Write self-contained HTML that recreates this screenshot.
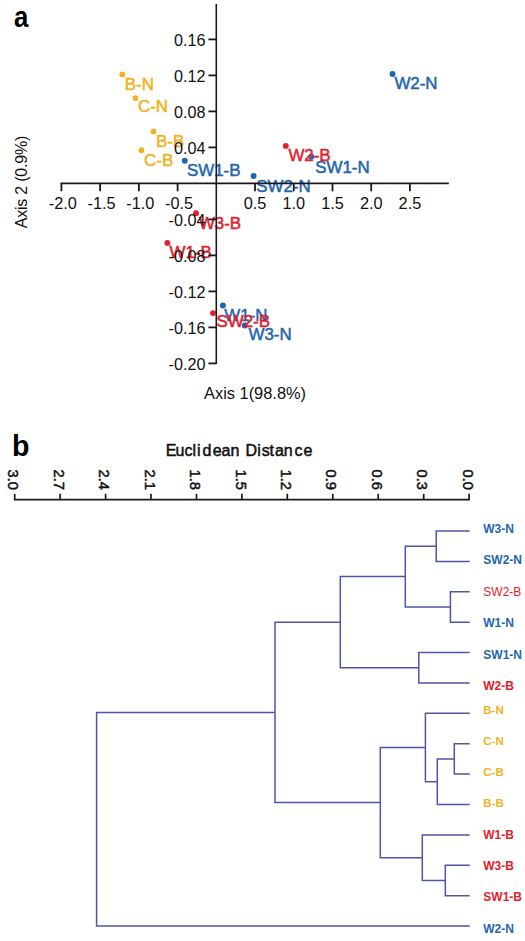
<!DOCTYPE html>
<html><head><meta charset="utf-8"><title>PCoA and dendrogram</title>
<style>
html,body{margin:0;padding:0;background:#fff;}
body{width:525px;height:941px;overflow:hidden;}
svg{display:block;font-family:"Liberation Sans", sans-serif;}
</style></head>
<body>
<svg width="525" height="941" viewBox="0 0 525 941">
<text transform="translate(13.9,26.6) scale(0.88,1)" font-size="29.3" font-weight="bold" fill="#000">a</text>
<circle cx="122.3" cy="74.4" r="2.95" fill="#f1b221"/>
<circle cx="135.4" cy="98.1" r="2.95" fill="#f1b221"/>
<circle cx="153.5" cy="131.5" r="2.95" fill="#f1b221"/>
<circle cx="141.4" cy="150.3" r="2.95" fill="#f1b221"/>
<circle cx="184.8" cy="160.7" r="2.95" fill="#1f66b0"/>
<circle cx="253.6" cy="176.0" r="2.95" fill="#1f66b0"/>
<circle cx="392.5" cy="74.0" r="2.95" fill="#1f66b0"/>
<circle cx="222.9" cy="305.5" r="2.95" fill="#1f66b0"/>
<circle cx="244.8" cy="325.5" r="2.95" fill="#1f66b0"/>
<circle cx="311.3" cy="156.8" r="2.95" fill="#1f66b0"/>
<circle cx="285.8" cy="145.9" r="2.95" fill="#e4202c"/>
<circle cx="196.0" cy="213.2" r="2.95" fill="#e4202c"/>
<circle cx="167.4" cy="242.9" r="2.95" fill="#e4202c"/>
<circle cx="213.0" cy="313.1" r="2.95" fill="#e4202c"/>
<text x="124.8" y="89.5" font-size="16.9" fill="#f1b221" stroke="#f1b221" stroke-width="0.5">B-N</text>
<text x="138.0" y="112.0" font-size="16.9" fill="#f1b221" stroke="#f1b221" stroke-width="0.5">C-N</text>
<text x="156.0" y="147.0" font-size="16.9" fill="#f1b221" stroke="#f1b221" stroke-width="0.5">B-B</text>
<text x="144.1" y="165.9" font-size="16.9" fill="#f1b221" stroke="#f1b221" stroke-width="0.5">C-B</text>
<text x="187.0" y="176.4" font-size="16.9" fill="#1f66b0" stroke="#1f66b0" stroke-width="0.5">SW1-B</text>
<text x="256.2" y="191.8" font-size="16.9" fill="#1f66b0" stroke="#1f66b0" stroke-width="0.5">SW2-N</text>
<text x="394.4" y="89.3" font-size="16.9" fill="#1f66b0" stroke="#1f66b0" stroke-width="0.5">W2-N</text>
<text x="224.2" y="320.5" font-size="16.9" fill="#1f66b0" stroke="#1f66b0" stroke-width="0.5">W1-N</text>
<text x="248.5" y="339.6" font-size="16.9" fill="#1f66b0" stroke="#1f66b0" stroke-width="0.5">W3-N</text>
<text x="315.2" y="173.1" font-size="16.9" fill="#1f66b0" stroke="#1f66b0" stroke-width="0.5">SW1-N</text>
<text x="288.4" y="160.6" font-size="16.9" fill="#e4202c" stroke="#e4202c" stroke-width="0.5">W2-B</text>
<text x="198.9" y="229.3" font-size="16.9" fill="#e4202c" stroke="#e4202c" stroke-width="0.5">W3-B</text>
<text x="169.6" y="257.8" font-size="16.9" fill="#e4202c" stroke="#e4202c" stroke-width="0.5">W1-B</text>
<text x="216.5" y="327.1" font-size="16.9" fill="#e4202c" stroke="#e4202c" stroke-width="0.5">SW2-B</text>
<line x1="216.3" y1="4" x2="216.3" y2="364.0" stroke="#1a1a1a" stroke-width="1.6"/>
<line x1="60.5" y1="183.4" x2="448.8" y2="183.4" stroke="#1a1a1a" stroke-width="1.6"/>
<line x1="61.4" y1="183.4" x2="61.4" y2="191.3" stroke="#1a1a1a" stroke-width="1.8"/>
<text x="62.9" y="208.5" font-size="16.3" text-anchor="middle" fill="#111">-2.0</text>
<line x1="100.1" y1="183.4" x2="100.1" y2="191.3" stroke="#1a1a1a" stroke-width="1.8"/>
<text x="101.6" y="208.5" font-size="16.3" text-anchor="middle" fill="#111">-1.5</text>
<line x1="138.9" y1="183.4" x2="138.9" y2="191.3" stroke="#1a1a1a" stroke-width="1.8"/>
<text x="140.4" y="208.5" font-size="16.3" text-anchor="middle" fill="#111">-1.0</text>
<line x1="177.6" y1="183.4" x2="177.6" y2="191.3" stroke="#1a1a1a" stroke-width="1.8"/>
<text x="179.1" y="208.5" font-size="16.3" text-anchor="middle" fill="#111">-0.5</text>
<line x1="255.0" y1="183.4" x2="255.0" y2="191.3" stroke="#1a1a1a" stroke-width="1.8"/>
<text x="255.0" y="208.5" font-size="16.3" text-anchor="middle" fill="#111">0.5</text>
<line x1="293.7" y1="183.4" x2="293.7" y2="191.3" stroke="#1a1a1a" stroke-width="1.8"/>
<text x="293.7" y="208.5" font-size="16.3" text-anchor="middle" fill="#111">1.0</text>
<line x1="332.5" y1="183.4" x2="332.5" y2="191.3" stroke="#1a1a1a" stroke-width="1.8"/>
<text x="332.5" y="208.5" font-size="16.3" text-anchor="middle" fill="#111">1.5</text>
<line x1="371.2" y1="183.4" x2="371.2" y2="191.3" stroke="#1a1a1a" stroke-width="1.8"/>
<text x="371.2" y="208.5" font-size="16.3" text-anchor="middle" fill="#111">2.0</text>
<line x1="409.9" y1="183.4" x2="409.9" y2="191.3" stroke="#1a1a1a" stroke-width="1.8"/>
<text x="409.9" y="208.5" font-size="16.3" text-anchor="middle" fill="#111">2.5</text>
<line x1="208.4" y1="39.4" x2="216.3" y2="39.4" stroke="#1a1a1a" stroke-width="1.8"/>
<text x="205.5" y="46.2" font-size="16.2" text-anchor="end" fill="#111">0.16</text>
<line x1="208.4" y1="75.4" x2="216.3" y2="75.4" stroke="#1a1a1a" stroke-width="1.8"/>
<text x="205.5" y="82.2" font-size="16.2" text-anchor="end" fill="#111">0.12</text>
<line x1="208.4" y1="111.4" x2="216.3" y2="111.4" stroke="#1a1a1a" stroke-width="1.8"/>
<text x="205.5" y="118.2" font-size="16.2" text-anchor="end" fill="#111">0.08</text>
<line x1="208.4" y1="147.4" x2="216.3" y2="147.4" stroke="#1a1a1a" stroke-width="1.8"/>
<text x="205.5" y="154.2" font-size="16.2" text-anchor="end" fill="#111">0.04</text>
<line x1="208.4" y1="219.4" x2="216.3" y2="219.4" stroke="#1a1a1a" stroke-width="1.8"/>
<text x="205.5" y="226.2" font-size="16.2" text-anchor="end" fill="#111">-0.04</text>
<line x1="208.4" y1="255.4" x2="216.3" y2="255.4" stroke="#1a1a1a" stroke-width="1.8"/>
<text x="205.5" y="262.2" font-size="16.2" text-anchor="end" fill="#111">-0.08</text>
<line x1="208.4" y1="291.4" x2="216.3" y2="291.4" stroke="#1a1a1a" stroke-width="1.8"/>
<text x="205.5" y="298.2" font-size="16.2" text-anchor="end" fill="#111">-0.12</text>
<line x1="208.4" y1="327.4" x2="216.3" y2="327.4" stroke="#1a1a1a" stroke-width="1.8"/>
<text x="205.5" y="334.2" font-size="16.2" text-anchor="end" fill="#111">-0.16</text>
<line x1="208.4" y1="363.4" x2="216.3" y2="363.4" stroke="#1a1a1a" stroke-width="1.8"/>
<text x="205.5" y="370.2" font-size="16.2" text-anchor="end" fill="#111">-0.20</text>
<text x="204" y="398.8" font-size="16.4" fill="#111">Axis 1(98.8%)</text>
<text transform="translate(26.8,228.3) rotate(-90)" x="0" y="0" font-size="16" fill="#111" textLength="92.6">Axis 2 (0.9%)</text>
<text transform="translate(11.9,455.6) scale(0.97,1)" font-size="29.5" font-weight="bold" fill="#000">b</text>
<text x="165.7 175.5 184.6 192.4 196.9 202.5 212.8 221.6 230.5 239.5 245.6 257.2 261.7 269.5 274.9 283.7 294.5 303.5" y="456.0" font-size="16" fill="#111" stroke="#111" stroke-width="0.5">Euclidean Distance</text>
<line x1="13.9" y1="499.6" x2="469.9" y2="499.6" stroke="#1a1a1a" stroke-width="1.7"/>
<line x1="469.1" y1="493.8" x2="469.1" y2="499.6" stroke="#1a1a1a" stroke-width="1.7"/>
<text transform="translate(462.7,469.6) rotate(90)" font-size="14.6" fill="#111" stroke="#111" stroke-width="0.5">0.0</text>
<line x1="423.7" y1="493.8" x2="423.7" y2="499.6" stroke="#1a1a1a" stroke-width="1.7"/>
<text transform="translate(417.3,469.6) rotate(90)" font-size="14.6" fill="#111" stroke="#111" stroke-width="0.5">0.3</text>
<line x1="378.2" y1="493.8" x2="378.2" y2="499.6" stroke="#1a1a1a" stroke-width="1.7"/>
<text transform="translate(371.8,469.6) rotate(90)" font-size="14.6" fill="#111" stroke="#111" stroke-width="0.5">0.6</text>
<line x1="332.8" y1="493.8" x2="332.8" y2="499.6" stroke="#1a1a1a" stroke-width="1.7"/>
<text transform="translate(326.4,469.6) rotate(90)" font-size="14.6" fill="#111" stroke="#111" stroke-width="0.5">0.9</text>
<line x1="287.3" y1="493.8" x2="287.3" y2="499.6" stroke="#1a1a1a" stroke-width="1.7"/>
<text transform="translate(280.9,469.6) rotate(90)" font-size="14.6" fill="#111" stroke="#111" stroke-width="0.5">1.2</text>
<line x1="241.9" y1="493.8" x2="241.9" y2="499.6" stroke="#1a1a1a" stroke-width="1.7"/>
<text transform="translate(235.5,469.6) rotate(90)" font-size="14.6" fill="#111" stroke="#111" stroke-width="0.5">1.5</text>
<line x1="196.5" y1="493.8" x2="196.5" y2="499.6" stroke="#1a1a1a" stroke-width="1.7"/>
<text transform="translate(190.1,469.6) rotate(90)" font-size="14.6" fill="#111" stroke="#111" stroke-width="0.5">1.8</text>
<line x1="151.0" y1="493.8" x2="151.0" y2="499.6" stroke="#1a1a1a" stroke-width="1.7"/>
<text transform="translate(144.6,469.6) rotate(90)" font-size="14.6" fill="#111" stroke="#111" stroke-width="0.5">2.1</text>
<line x1="105.6" y1="493.8" x2="105.6" y2="499.6" stroke="#1a1a1a" stroke-width="1.7"/>
<text transform="translate(99.2,469.6) rotate(90)" font-size="14.6" fill="#111" stroke="#111" stroke-width="0.5">2.4</text>
<line x1="60.1" y1="493.8" x2="60.1" y2="499.6" stroke="#1a1a1a" stroke-width="1.7"/>
<text transform="translate(53.7,469.6) rotate(90)" font-size="14.6" fill="#111" stroke="#111" stroke-width="0.5">2.7</text>
<line x1="14.7" y1="493.8" x2="14.7" y2="499.6" stroke="#1a1a1a" stroke-width="1.7"/>
<text transform="translate(8.3,469.6) rotate(90)" font-size="14.6" fill="#111" stroke="#111" stroke-width="0.5">3.0</text>
<text x="483.3" y="532.5" font-size="12" font-weight="bold" fill="#1f66b0">W3-N</text>
<text x="483.3" y="564.2" font-size="12" font-weight="bold" fill="#1f66b0">SW2-N</text>
<text x="483.3" y="596.3" font-size="12" fill="#e4202c">SW2-B</text>
<text x="483.3" y="627.2" font-size="12" font-weight="bold" fill="#1f66b0">W1-N</text>
<text x="483.3" y="658.9" font-size="12" font-weight="bold" fill="#1f66b0">SW1-N</text>
<text x="483.3" y="690.2" font-size="12" font-weight="bold" fill="#e4202c">W2-B</text>
<text x="483.3" y="714.0" font-size="11.5" font-weight="bold" fill="#f1b221">B-N</text>
<text x="483.3" y="744.9" font-size="11.5" font-weight="bold" fill="#f1b221">C-N</text>
<text x="483.3" y="775.8" font-size="11.5" font-weight="bold" fill="#f1b221">C-B</text>
<text x="483.3" y="807.2" font-size="11.5" font-weight="bold" fill="#f1b221">B-B</text>
<text x="483.3" y="839.1" font-size="12" font-weight="bold" fill="#e4202c">W1-B</text>
<text x="483.3" y="869.8" font-size="12" font-weight="bold" fill="#e4202c">W3-B</text>
<text x="483.3" y="901.4" font-size="12" font-weight="bold" fill="#e4202c">SW1-B</text>
<text x="483.3" y="932.6" font-size="12" font-weight="bold" fill="#1f66b0">W2-N</text>
<path d="M469.7 531.0H436.2V561.4H469.7 M469.7 591.8H450.4V622.2H469.7 M436.2 546.2H405.3V607.0H450.4 M469.7 652.6H418.8V683.0H469.7 M405.3 576.6H340.3V667.8H418.8 M469.7 743.7H454.3V774.1H469.7 M454.3 758.9H437.3V804.5H469.7 M469.7 713.3H425.4V781.7H437.3 M469.7 865.3H445.3V895.7H469.7 M469.7 834.9H422.3V880.5H445.3 M425.4 747.5H380.3V857.7H422.3 M340.3 622.2H275.0V802.6H380.3 M275.0 712.4H96.6V926.1H469.7" fill="none" stroke="#5056a6" stroke-width="1.5" stroke-linejoin="miter"/>
</svg>
</body></html>
